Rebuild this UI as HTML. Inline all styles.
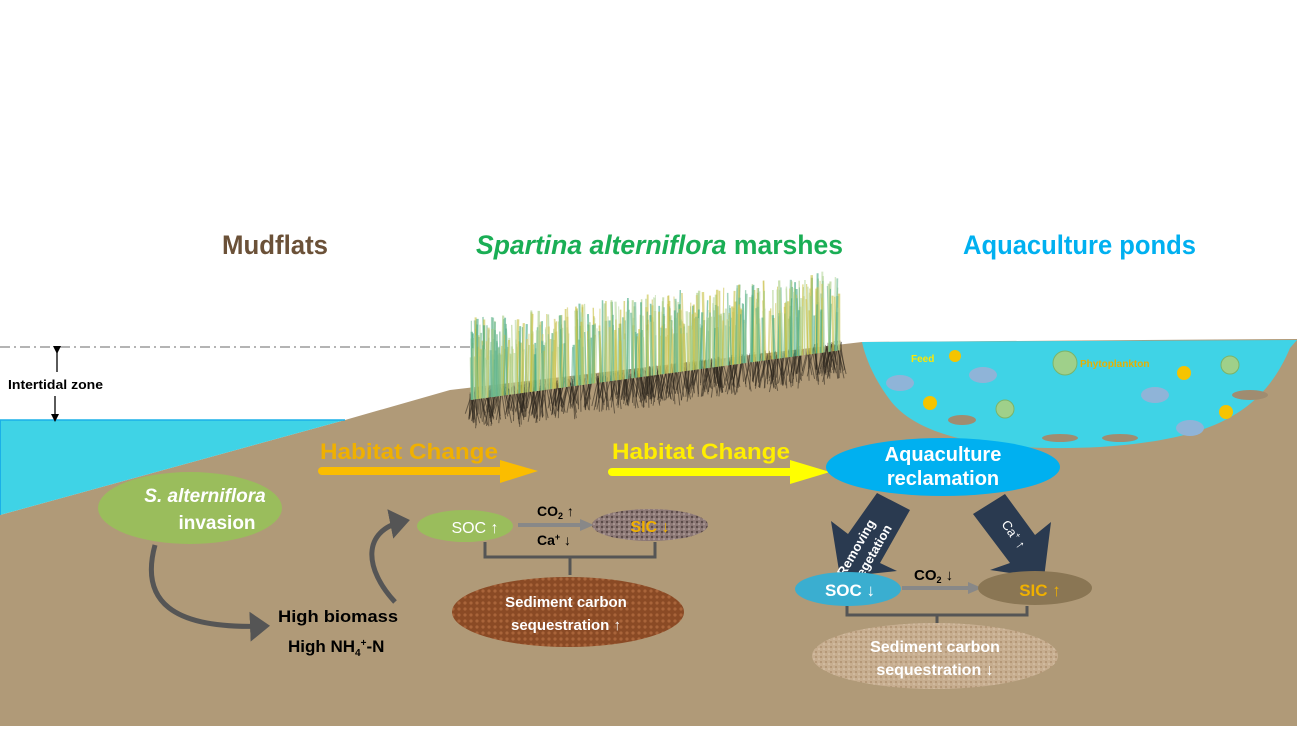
<!DOCTYPE html>
<html><head><meta charset="utf-8"><style>
body{margin:0;background:#fff;}
svg{display:block;}
text{font-family:"Liberation Sans",sans-serif;}
.c{font-family:"Liberation Sans Narrow","Liberation Sans",sans-serif;font-weight:bold;}
</style></head><body>
<svg id="s" width="1297" height="730" viewBox="0 0 1297 730" xmlns="http://www.w3.org/2000/svg">
<defs>
<marker id="ga" markerWidth="6" markerHeight="6" refX="3" refY="3" orient="auto" markerUnits="strokeWidth"><path d="M0,0 L4,3 L0,6z" fill="#555"/></marker>
<marker id="ka" markerWidth="8" markerHeight="8" refX="4" refY="4" orient="auto" markerUnits="userSpaceOnUse"><path d="M0,0 L8,4 L0,8z" fill="#000"/></marker>
<pattern id="dots" width="6" height="6" patternUnits="userSpaceOnUse"><rect width="6" height="6" fill="#8a4a25"/><circle cx="3" cy="3" r="1.6" fill="#a9643a"/></pattern>
<pattern id="sand" width="5" height="5" patternUnits="userSpaceOnUse"><rect width="5" height="5" fill="#c7ae90"/><circle cx="1" cy="2" r="1" fill="#b09070"/><circle cx="4" cy="4" r="0.8" fill="#dcc8b0"/></pattern>
<pattern id="grav" width="5" height="5" patternUnits="userSpaceOnUse"><rect width="5" height="5" fill="#8e7a78"/><circle cx="2" cy="2" r="1.2" fill="#5a4a48"/><circle cx="4" cy="4" r="0.8" fill="#c0b0aa"/></pattern>
</defs>
<polygon points="0,515 345,420 450,390 862,342 1297,339 1297,726 0,726" fill="#b09a78"/>
<polygon points="0,420 345,420 0,515" fill="#3fd3e6"/>
<line x1="0" y1="420" x2="345" y2="420" stroke="#1ab0e8" stroke-width="1.5"/>
<line x1="0" y1="420" x2="0" y2="515" stroke="#1ab0e8" stroke-width="2"/>
<line x1="0" y1="347" x2="470" y2="347" stroke="#888" stroke-width="1.3" stroke-dasharray="10,4,2,4"/>
<line x1="57" y1="350" x2="57" y2="372" stroke="#000" stroke-width="1.3" marker-start="url(#ka)"/>
<line x1="55" y1="396" x2="55" y2="418" stroke="#000" stroke-width="1.3" marker-end="url(#ka)"/>
<text x="8" y="389" class="c" font-size="13" fill="#000" textLength="95" lengthAdjust="spacingAndGlyphs">Intertidal zone</text>
<path d="M862,342 L1297,340 L1290,348 C1260,420 1200,440 1100,447 C1000,452 920,440 890,400 C875,380 866,360 862,342z" fill="#3fd3e6"/>
<g id="grass"></g>
<text x="222" y="254" class="c" font-size="27" fill="#6b5138" textLength="106" lengthAdjust="spacingAndGlyphs">Mudflats</text>
<text x="476" y="254" class="c" font-size="27" fill="#1aae55" textLength="367" lengthAdjust="spacingAndGlyphs"><tspan font-style="italic">Spartina alterniflora</tspan> marshes</text>
<text x="963" y="254" class="c" font-size="27" fill="#00b0f0" textLength="233" lengthAdjust="spacingAndGlyphs">Aquaculture ponds</text>
<text x="911" y="362" font-size="10" font-weight="bold" fill="#ffe600">Feed</text>
<text x="1080" y="367" font-size="10" font-weight="bold" fill="#e8b000">Phytoplankton</text>
<g fill="#f5c400">
<circle cx="955" cy="356" r="6"/><circle cx="930" cy="403" r="7"/><circle cx="1184" cy="373" r="7"/><circle cx="1226" cy="412" r="7"/>
</g>
<g fill="#9fd08a" stroke="#7ab46a"><circle cx="1065" cy="363" r="12"/><circle cx="1005" cy="409" r="9"/><circle cx="1230" cy="365" r="9"/></g>
<g fill="#8fb4d8"><ellipse cx="900" cy="383" rx="14" ry="8"/><ellipse cx="983" cy="375" rx="14" ry="8"/><ellipse cx="1155" cy="395" rx="14" ry="8"/><ellipse cx="1190" cy="428" rx="14" ry="8"/></g>
<g fill="#a08c70"><ellipse cx="962" cy="420" rx="14" ry="5"/><ellipse cx="1060" cy="438" rx="18" ry="4"/><ellipse cx="1120" cy="438" rx="18" ry="4"/><ellipse cx="1250" cy="395" rx="18" ry="5"/></g>
<text x="320" y="459" font-size="22" font-weight="bold" fill="#f0b000" textLength="178" lengthAdjust="spacingAndGlyphs">Habitat Change</text>
<line x1="322" y1="471" x2="500" y2="471" stroke="#fbbd00" stroke-width="8" stroke-linecap="round"/>
<polygon points="500,460 538,471 500,483" fill="#fbbd00"/>
<text x="612" y="459" font-size="22" font-weight="bold" fill="#ffee00" textLength="178" lengthAdjust="spacingAndGlyphs">Habitat Change</text>
<line x1="612" y1="472" x2="790" y2="472" stroke="#ffff00" stroke-width="8" stroke-linecap="round"/>
<polygon points="790,460 830,472 790,484" fill="#ffff00"/>
<ellipse cx="190" cy="508" rx="92" ry="36" fill="#9abd5c"/>
<text x="205" y="502" text-anchor="middle" font-size="19" font-weight="bold" font-style="italic" fill="#fff">S. alterniflora</text>
<text x="217" y="529" text-anchor="middle" font-size="19" font-weight="bold" fill="#fff">invasion</text>
<path d="M155,545 C140,600 170,630 265,626" fill="none" stroke="#555" stroke-width="5" marker-end="url(#ga)"/>
<path d="M395,602 C365,570 360,530 405,521" fill="none" stroke="#555" stroke-width="5" marker-end="url(#ga)"/>
<text x="278" y="622" class="c" font-size="17" fill="#000" textLength="120" lengthAdjust="spacingAndGlyphs">High biomass</text>
<text x="288" y="652" class="c" font-size="17" fill="#000">High NH<tspan font-size="10" dy="4">4</tspan><tspan font-size="10" dy="-10">+</tspan><tspan dy="6">-N</tspan></text>
<ellipse cx="465" cy="526" rx="48" ry="16" fill="#9abd5c"/>
<text x="475" y="533" text-anchor="middle" font-size="16" fill="#fff">SOC ↑</text>
<line x1="518" y1="525" x2="582" y2="525" stroke="#888" stroke-width="4"/>
<polygon points="580,519 594,525 580,531" fill="#888"/>
<ellipse cx="650" cy="525" rx="58" ry="16" fill="url(#grav)"/>
<text x="650" y="532" text-anchor="middle" font-size="16" font-weight="bold" fill="#f0b000">SIC ↓</text>
<text x="537" y="516" class="c" font-size="14" fill="#000">CO<tspan font-size="9" dy="3">2</tspan><tspan dy="-3"> ↑</tspan></text>
<text x="537" y="545" class="c" font-size="14" fill="#000">Ca<tspan font-size="9" dy="-5">+</tspan><tspan dy="5"> ↓</tspan></text>
<path d="M485,542 V557 H655 V542 M570,557 V575" fill="none" stroke="#555" stroke-width="3"/>
<ellipse cx="568" cy="612" rx="116" ry="35" fill="url(#dots)"/>
<text x="566" y="607" text-anchor="middle" font-size="15" font-weight="bold" fill="#fff">Sediment carbon</text>
<text x="566" y="630" text-anchor="middle" font-size="15" font-weight="bold" fill="#fff">sequestration ↑</text>
<ellipse cx="943" cy="467" rx="117" ry="29" fill="#00b0f0"/>
<text x="943" y="461" text-anchor="middle" font-size="20" font-weight="bold" fill="#fff">Aquaculture</text>
<text x="943" y="485" text-anchor="middle" font-size="20" font-weight="bold" fill="#fff">reclamation</text>
<polygon points="877,493 910,510 880,563 897,571 840,577 831,521 848,534" fill="#2a3a50"/>
<text transform="translate(860,550) rotate(-60)" text-anchor="middle" font-size="13" font-weight="bold" fill="#fff">Removing</text>
<text transform="translate(876,556) rotate(-60)" text-anchor="middle" font-size="13" font-weight="bold" fill="#fff">vegetation</text>
<polygon points="1005,494 973,514 1010,563 990,570 1044,578 1051,522 1035,535" fill="#2a3a50"/>
<text transform="translate(1010,537) rotate(55)" text-anchor="middle" font-size="13" fill="#fff">Ca<tspan font-size="8" dy="-5">+</tspan><tspan dy="5"> ↑</tspan></text>
<ellipse cx="848" cy="589" rx="53" ry="17" fill="#3aaed0"/>
<text x="850" y="596" text-anchor="middle" font-size="17" font-weight="bold" fill="#fff">SOC ↓</text>
<line x1="902" y1="588" x2="970" y2="588" stroke="#888" stroke-width="4"/>
<polygon points="968,582 982,588 968,594" fill="#888"/>
<ellipse cx="1035" cy="588" rx="57" ry="17" fill="#8a7654"/>
<text x="1040" y="596" text-anchor="middle" font-size="17" font-weight="bold" fill="#f0b000">SIC ↑</text>
<text x="914" y="580" class="c" font-size="15" fill="#000">CO<tspan font-size="9" dy="3">2</tspan><tspan dy="-3"> ↓</tspan></text>
<path d="M847,606 V615 H1027 V606 M937,615 V623" fill="none" stroke="#555" stroke-width="3"/>
<ellipse cx="935" cy="656" rx="123" ry="33" fill="url(#sand)"/>
<text x="935" y="652" text-anchor="middle" font-size="16" font-weight="bold" fill="#fff">Sediment carbon</text>
<text x="935" y="675" text-anchor="middle" font-size="16" font-weight="bold" fill="#fff">sequestration ↓</text>
</svg>
<script>
(function(){var g=document.getElementById('grass'),h='';
var seed=7;function r(){seed=(seed*9301+49297)%233280;return seed/233280;}
for(var i=0;i<500;i++){var x=470+r()*372,t=(x-470)/372,base=412-50*t+r()*8;
h+='<line x1="'+x+'" y1="'+(base-22)+'" x2="'+(x+(r()-.5)*16)+'" y2="'+(base+r()*14)+'" stroke="#2a241c" stroke-width="1" opacity="0.55"/>';}
var cols=['#c8c040','#6ab890','#a8cc80','#40a880','#d0c860','#b8d8a0'];
for(var i=0;i<550;i++){var x=470+r()*372,t=(x-470)/372,base=400-50*t,top=318-50*t+r()*45;
h+='<line x1="'+x+'" y1="'+base+'" x2="'+(x+(r()-.5)*4)+'" y2="'+top+'" stroke="'+cols[i%6]+'" stroke-width="'+(1+r()*1.5)+'" opacity="0.6"/>';}
g.innerHTML=h;})();
</script>
</body></html>
